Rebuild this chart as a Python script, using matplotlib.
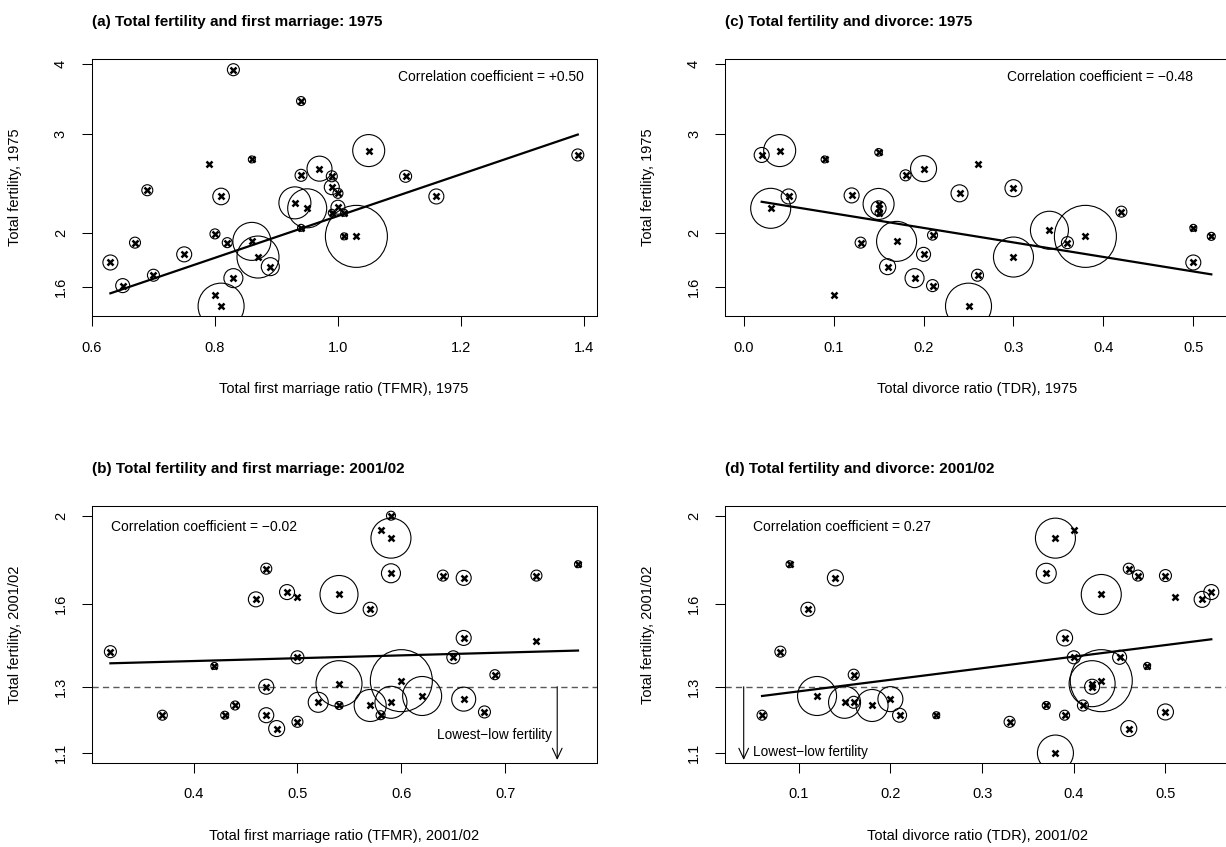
import numpy as np
import matplotlib
matplotlib.use("Agg")
import matplotlib.pyplot as plt
from matplotlib.ticker import FixedLocator, FixedFormatter, NullLocator

plt.rcParams['font.family'] = ['Liberation Sans', 'DejaVu Sans']

# ---------------------------------------------------------------------------
# (a) Total fertility vs total first marriage ratio, 1975
a_x = [0.83, 0.94, 0.79, 0.86, 0.69, 0.81, 0.80, 0.82, 0.67, 0.63, 0.75, 0.70,
       0.65, 0.83, 0.80, 0.81, 0.86, 0.87, 0.89, 0.94, 0.93, 0.95, 0.94, 0.97,
       1.05, 0.99, 1.11, 0.99, 1.00, 1.16, 1.00, 0.99, 1.01, 1.01, 1.03, 1.39]
a_y = [3.90, 3.43, 2.65, 2.70, 2.38, 2.32, 1.99, 1.92, 1.92, 1.77, 1.83, 1.68,
       1.61, 1.66, 1.55, 1.48, 1.93, 1.81, 1.74, 2.04, 2.26, 2.21, 2.53, 2.60,
       2.80, 2.52, 2.52, 2.41, 2.35, 2.32, 2.22, 2.17, 2.17, 1.97, 1.97, 2.75]
a_size = [6, 4.5, 0, 3.5, 5.5, 8.3, 5, 5, 5.5, 7.5, 7.5, 6,
          7, 9.5, 0, 23, 19, 21, 9, 3.5, 16, 19.5, 6, 12.5,
          16, 5.5, 6, 7.5, 5, 7.5, 7, 3.5, 3.5, 3.5, 31, 6]
a_fit_x = [0.63, 1.39]
a_fit_y = [1.56, 2.99]
a_corr = "+0.50"

# (c) Total fertility vs total divorce ratio, 1975
c_x = [0.02, 0.04, 0.09, 0.15, 0.18, 0.20, 0.05, 0.03, 0.12, 0.15, 0.15, 0.15,
       0.13, 0.17, 0.20, 0.16, 0.19, 0.21, 0.10, 0.21, 0.26, 0.24, 0.30, 0.26,
       0.25, 0.30, 0.34, 0.38, 0.36, 0.42, 0.50, 0.52, 0.50]
c_y = [2.75, 2.80, 2.70, 2.78, 2.53, 2.60, 2.32, 2.21, 2.33, 2.25, 2.21, 2.17,
       1.92, 1.93, 1.83, 1.74, 1.66, 1.61, 1.55, 1.98, 2.65, 2.35, 2.40, 1.68,
       1.48, 1.81, 2.02, 1.97, 1.92, 2.18, 2.04, 1.97, 1.77]
c_size = [7.5, 16, 3.5, 3.8, 5.5, 13, 7.5, 20, 7.5, 15.5, 7.5, 3.5,
          5.5, 20, 7, 8, 9.5, 6, 0, 5, 0, 8.5, 8.5, 6,
          23, 20, 19, 31, 6, 5.5, 3.5, 4, 7.5]
c_fit_x = [0.02, 0.52]
c_fit_y = [2.27, 1.686]
c_corr = "\u22120.48"

# (b) Total fertility vs total first marriage ratio, 2001/02
b_x = [0.32, 0.42, 0.37, 0.43, 0.44, 0.47, 0.46, 0.49, 0.50, 0.50, 0.47, 0.47,
       0.48, 0.50, 0.52, 0.54, 0.54, 0.54, 0.59, 0.58, 0.59, 0.59, 0.57, 0.64,
       0.66, 0.73, 0.77, 0.66, 0.73, 0.65, 0.69, 0.57, 0.58, 0.59, 0.60, 0.62,
       0.66, 0.68]
b_y = [1.42, 1.37, 1.21, 1.21, 1.24, 1.75, 1.62, 1.65, 1.63, 1.40, 1.30, 1.21,
       1.17, 1.19, 1.25, 1.64, 1.31, 1.24, 2.00, 1.93, 1.89, 1.73, 1.58, 1.72,
       1.71, 1.72, 1.77, 1.47, 1.46, 1.40, 1.34, 1.24, 1.21, 1.25, 1.32, 1.27,
       1.26, 1.22]
b_size = [6, 3.5, 5, 4, 4.5, 5.5, 7.5, 7.5, 0, 6.5, 7.5, 7.5,
          8, 5.5, 10, 19, 23, 4, 4.5, 0, 20, 9.5, 7, 5.5,
          7.5, 5.5, 3.5, 7.5, 0, 6.5, 5, 16, 4.5, 16, 31, 19.5,
          12, 6]
b_fit_x = [0.32, 0.77]
b_fit_y = [1.379, 1.424]
b_corr = "\u22120.02"

# (d) Total fertility vs total divorce ratio, 2001/02
d_x = [0.09, 0.14, 0.11, 0.08, 0.16, 0.06, 0.12, 0.15, 0.16, 0.18, 0.20, 0.21,
       0.25, 0.33, 0.37, 0.39, 0.38, 0.38, 0.40, 0.37, 0.43, 0.46, 0.47, 0.50,
       0.51, 0.54, 0.55, 0.39, 0.40, 0.45, 0.48, 0.43, 0.42, 0.42, 0.41, 0.50,
       0.46]
d_y = [1.77, 1.71, 1.58, 1.42, 1.34, 1.21, 1.27, 1.25, 1.25, 1.24, 1.26, 1.21,
       1.21, 1.19, 1.24, 1.21, 1.10, 1.89, 1.93, 1.73, 1.64, 1.75, 1.72, 1.72,
       1.63, 1.62, 1.65, 1.47, 1.40, 1.40, 1.37, 1.32, 1.31, 1.30, 1.24, 1.22,
       1.17]
d_size = [3.5, 8, 7, 5.5, 5.5, 5, 19.5, 16, 6, 16, 12.5, 7,
          3.5, 5.5, 4, 5, 18, 20, 0, 10, 20, 5.5, 5.5, 6,
          0, 8, 7.5, 8, 6.5, 7, 3.5, 31, 23, 7.5, 5.5, 8,
          8]
d_fit_x = [0.06, 0.55]
d_fit_y = [1.27, 1.465]
d_corr = "0.27"

lowest_low = 1.3

y_ticks_1975 = [1.6, 2, 3, 4]
y_labels_1975 = ["1.6", "2", "3", "4"]
y_ticks_2001 = [1.1, 1.3, 1.6, 2]
y_labels_2001 = ["1.1", "1.3", "1.6", "2"]

# ---------------------------------------------------------------------------
W, H = 1226, 847
fig = plt.figure(figsize=(W / 100, H / 100), dpi=100)


def px_axes(left, top, right, bottom):
    return fig.add_axes([left / W, 1 - bottom / H, (right - left) / W, (bottom - top) / H])


def draw_panel(ax, x, y, size, fit_x, fit_y, xlim, ylim, yticks, ylabels,
               xticks, title, xlabel, ylabel):
    x = np.asarray(x, float)
    y = np.asarray(y, float)
    size = np.asarray(size, float)
    ax.set_yscale('log')
    ax.set_xlim(*xlim)
    ax.set_ylim(*ylim)
    has = size > 0
    ax.scatter(x[has], y[has], s=(1.44 * size[has]) ** 2, facecolors='none',
               edgecolors='black', linewidths=0.8, zorder=2)
    ax.plot(x, y, linestyle='none', marker='x', ms=4, mew=1.8, color='black', zorder=3)
    ax.plot(fit_x, fit_y, color='black', lw=1.6, zorder=4)

    ax.yaxis.set_major_locator(FixedLocator(yticks))
    ax.yaxis.set_major_formatter(FixedFormatter(ylabels))
    ax.yaxis.set_minor_locator(NullLocator())
    ax.xaxis.set_major_locator(FixedLocator(xticks))
    ax.xaxis.set_minor_locator(NullLocator())
    ax.tick_params(axis='both', direction='out', length=7.2, width=0.75, labelsize=10.5)
    ax.tick_params(axis='x', pad=10.5)
    ax.tick_params(axis='y', pad=10, labelrotation=90)
    for lbl in ax.get_yticklabels():
        lbl.set_va('center')
    for sp in ax.spines.values():
        sp.set_linewidth(0.75)
    ax.set_title(title, loc='left', fontsize=11, fontweight='bold', pad=24)
    ax.set_xlabel(xlabel, fontsize=10.5, va='center')
    ax.xaxis.set_label_coords(0.5, -73 / 256.7)
    ax.set_ylabel(ylabel, fontsize=10.5, va='center')
    ax.yaxis.set_label_coords(-77 / 505, 0.5)


ax_a = px_axes(91.7, 59.3, 596.5, 316)
ax_c = px_axes(725, 59.3, 1230, 316)
ax_b = px_axes(91.7, 506, 596.7, 762.7)
ax_d = px_axes(725, 506, 1230, 762.7)

ylim_1975 = (1.4215, 4.07)
ylim_2001 = (1.0736, 2.0494)

draw_panel(ax_a, a_x, a_y, a_size, a_fit_x, a_fit_y, (0.5996, 1.4204), ylim_1975,
           y_ticks_1975, y_labels_1975, [0.6, 0.8, 1.0, 1.2, 1.4],
           "(a) Total fertility and first marriage: 1975",
           "Total first marriage ratio (TFMR), 1975", "Total fertility, 1975")
ax_a.xaxis.set_major_formatter(FixedFormatter(["0.6", "0.8", "1.0", "1.2", "1.4"]))

draw_panel(ax_c, c_x, c_y, c_size, c_fit_x, c_fit_y, (-0.0208, 0.5408), ylim_1975,
           y_ticks_1975, y_labels_1975, [0.0, 0.1, 0.2, 0.3, 0.4, 0.5],
           "(c) Total fertility and divorce: 1975",
           "Total divorce ratio (TDR), 1975", "Total fertility, 1975")
ax_c.xaxis.set_major_formatter(FixedFormatter(["0.0", "0.1", "0.2", "0.3", "0.4", "0.5"]))

draw_panel(ax_b, b_x, b_y, b_size, b_fit_x, b_fit_y, (0.302, 0.788), ylim_2001,
           y_ticks_2001, y_labels_2001, [0.4, 0.5, 0.6, 0.7],
           "(b) Total fertility and first marriage: 2001/02",
           "Total first marriage ratio (TFMR), 2001/02", "Total fertility, 2001/02")
ax_b.xaxis.set_major_formatter(FixedFormatter(["0.4", "0.5", "0.6", "0.7"]))

draw_panel(ax_d, d_x, d_y, d_size, d_fit_x, d_fit_y, (0.0196, 0.5704), ylim_2001,
           y_ticks_2001, y_labels_2001, [0.1, 0.2, 0.3, 0.4, 0.5],
           "(d) Total fertility and divorce: 2001/02",
           "Total divorce ratio (TDR), 2001/02", "Total fertility, 2001/02")
ax_d.xaxis.set_major_formatter(FixedFormatter(["0.1", "0.2", "0.3", "0.4", "0.5"]))

# correlation notes
note_size = 10
ax_a.text(0.975, 0.93, "Correlation coefficient = " + a_corr, transform=ax_a.transAxes,
          ha='right', va='center', fontsize=note_size)
ax_c.text(0.926, 0.93, "Correlation coefficient = " + c_corr, transform=ax_c.transAxes,
          ha='right', va='center', fontsize=note_size)
ax_b.text(0.0376, 0.919, "Correlation coefficient = " + b_corr, transform=ax_b.transAxes,
          ha='left', va='center', fontsize=note_size)
ax_d.text(0.056, 0.919, "Correlation coefficient = " + d_corr, transform=ax_d.transAxes,
          ha='left', va='center', fontsize=note_size)

# lowest-low fertility threshold and arrows
for ax, ax_x in ((ax_b, 0.75), (ax_d, 0.04)):
    ax.axhline(lowest_low, color='0.35', lw=1.0, ls=(0, (4.5, 3)), zorder=1)
    ax.annotate('', xy=(ax_x, 1.081), xytext=(ax_x, lowest_low),
                arrowprops=dict(arrowstyle='->,head_length=0.75,head_width=0.35',
                                color='black', lw=0.8, shrinkA=0, shrinkB=0,
                                mutation_scale=10))
ax_b.text(0.9115, 0.108, "Lowest\u2212low fertility", transform=ax_b.transAxes,
          ha='right', va='center', fontsize=9.8)
ax_d.text(0.0549, 0.0405, "Lowest\u2212low fertility", transform=ax_d.transAxes,
          ha='left', va='center', fontsize=9.8)

fig.savefig("out.png", dpi=100)
